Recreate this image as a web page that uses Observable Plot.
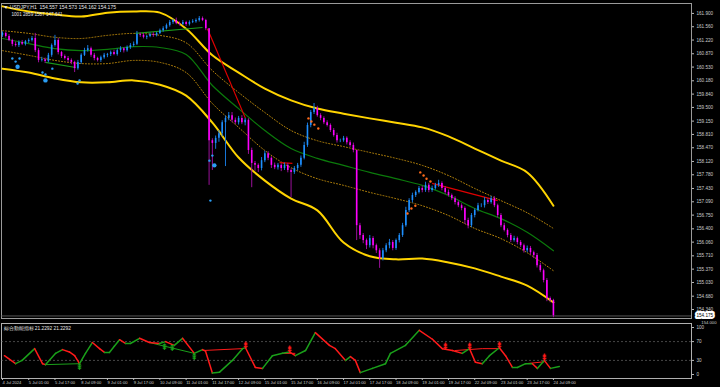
<!DOCTYPE html>
<html><head><meta charset="utf-8">
<script src="https://cdn.jsdelivr.net/npm/d3@7"></script>
<script src="https://cdn.jsdelivr.net/npm/@observablehq/plot@0.6"></script>
<style>
html,body{margin:0;padding:0;background:#000;}
#wrap{width:720px;height:387px;background:#000;overflow:hidden;}
svg{display:block;}
</style></head><body><div id="wrap"></div>
<script>
// ---- data (2-hour candles, USDJPY) ----
const firstOpen = 161.34;
const closes = [161.39,161.31,161.21,161.11,161.08,161.16,161.11,161.18,161.21,161.26,
160.95,160.70,160.72,160.67,160.83,161.08,161.21,160.90,160.80,160.75,
160.70,160.65,160.49,160.65,160.83,160.95,161.00,160.83,160.75,160.70,
160.77,160.83,160.85,160.90,160.85,160.95,161.00,160.95,161.03,161.08,
161.11,161.36,161.34,161.29,161.31,161.36,161.34,161.39,161.46,161.51,
161.59,161.67,161.72,161.64,161.62,161.67,161.62,161.67,161.69,161.72,
161.77,161.72,161.51,158.65,158.58,158.71,158.83,159.11,159.22,159.29,
159.17,159.11,159.22,159.11,159.17,158.40,158.07,158.02,157.94,158.14,
158.32,158.20,158.02,157.96,158.02,157.94,158.02,157.89,157.84,157.94,
158.02,158.20,158.53,159.04,159.37,159.47,159.29,159.22,159.11,159.04,
158.91,158.78,158.65,158.65,158.71,158.60,158.53,158.40,156.48,156.23,
156.10,155.97,156.15,155.97,155.84,155.64,155.84,155.97,156.05,155.90,
156.10,156.23,156.48,156.87,157.12,157.25,157.33,157.43,157.38,157.51,
157.38,157.43,157.51,157.56,157.43,157.33,157.25,157.17,157.07,156.99,
156.92,156.61,156.48,156.74,156.87,156.99,156.99,157.12,157.07,157.17,
156.99,156.74,156.48,156.36,156.23,156.10,156.15,156.05,155.97,155.84,
155.90,155.79,155.72,155.46,155.33,155.08,154.62,154.57,154.18];
// wick extension above the body / below the body (price units)
const wickUp = [.04,.03,.05,.03,.06,.04,.05,.03,.04,.05,
.13,.05,.06,.04,.05,.04,.13,.05,.03,.04,
.05,.04,.03,.05,.04,.06,.08,.04,.05,.03,
.04,.05,.03,.04,.06,.04,.05,.03,.04,.05,
.06,.08,.04,.05,.03,.04,.05,.03,.04,.05,
.04,.05,.03,.06,.04,.05,.03,.04,.05,.04,
.05,.04,.03,0,.05,.06,.08,.05,.06,.08,
.08,.06,.05,.07,.05,.04,.06,.05,.04,.08,
.06,.05,.04,.06,.05,.04,.06,.05,.04,.05,
.05,.06,.08,.06,.05,.13,.06,.05,.04,.05,
.04,.05,.06,.04,.05,.04,.05,.06,0,.06,
.05,.04,.08,.05,.04,.05,.06,.05,.08,.05,
.04,.05,.06,.08,.05,.06,.04,.05,.06,.08,
.05,.06,.05,.08,.04,.05,.06,.04,.05,.04,
.05,.04,.06,.05,.04,.06,.05,.08,.05,.06,
.05,.04,.05,.06,.04,.05,.06,.04,.05,.04,
.06,.05,.04,.05,.06,.04,.05,.04,.03];
const wickDn = [.05,.04,.03,.06,.04,.05,.03,.04,.05,.04,
.05,.06,.04,.05,.03,.05,.04,.06,.05,.04,
.05,.06,.10,.04,.05,.03,.04,.05,.06,.04,
.05,.04,.06,.05,.03,.04,.05,.06,.04,.05,
.04,.03,.05,.04,.06,.03,.05,.04,.03,.04,
.03,.04,.05,.03,.04,.03,.05,.04,.03,.04,
.04,.03,.05,1.14,.69,.15,.10,.08,1.12,.06,
.06,.05,.06,.05,.08,.10,.62,.15,.10,.06,
.05,.06,.08,.05,.06,.08,.05,.06,.64,.05,
.06,.05,.04,.05,.06,.05,.04,.06,.05,.04,
.05,.04,.06,.05,.04,.06,.05,.06,.38,.10,
.08,.10,.06,.08,.07,.25,.06,.05,.08,.06,
.05,.06,.05,.04,.05,.06,.05,.04,.06,.05,
.06,.05,.04,.05,.06,.05,.04,.05,.06,.05,
.06,.10,.08,.05,.06,.04,.05,.06,.05,.04,
.05,.06,.05,.04,.06,.05,.04,.06,.05,.06,
.05,.06,.08,.06,.05,.06,.08,.06,.05];

// TMA bands, sampled every 8 candles
const bandIdx   = [0,8,16,24,32,40,48,56,64,72,80,88,96,104,112,120,128,136,144,152,160,168];
const upperBand = [162.08,161.95,161.87,161.82,161.92,161.95,161.92,161.51,160.83,160.39,159.98,159.68,159.47,159.34,159.22,159.11,158.99,158.76,158.45,158.14,157.84,156.99];
const upperDot  = [161.46,161.39,161.29,161.26,161.34,161.39,161.34,161.15,160.44,159.88,159.37,158.91,158.65,158.50,158.35,158.20,158.02,157.76,157.43,157.12,156.81,156.41];
const midLine   = [161.26,161.13,161.00,160.95,160.98,161.05,161.03,160.85,160.06,159.47,158.91,158.45,158.20,158.02,157.84,157.68,157.51,157.25,156.92,156.66,156.31,155.84];
const lowerDot  = [160.95,160.83,160.70,160.62,160.62,160.70,160.65,160.39,159.60,158.99,158.40,157.96,157.68,157.51,157.33,157.17,156.99,156.74,156.41,156.15,155.79,155.33];
const lowerBand = [160.49,160.39,160.24,160.14,160.14,160.19,160.08,159.80,159.11,158.22,157.63,157.17,156.87,156.05,155.70,155.62,155.64,155.54,155.39,155.18,154.95,154.52];

// signal dots
const buyIdx   = [3,4,5.2,12.2,13.1,15.2,22.9,23.5,63.1,64,63.4];
const buyPrice = [160.75,160.67,160.75,160.39,160.34,160.49,160.11,160.19,158.14,158.27,157.12];
const buyBigIdx = [4.6,13.1,64.6];
const buyBigPrice = [160.54,160.19,158.02];
const sellIdx   = [93.3,94.2,95.1,96.3,123.5,124.7,125.9,127.4,128.4,129.3,130.5];
const sellPrice = [159.22,159.14,159.06,158.96,156.79,156.92,156.99,157.84,157.76,157.68,157.61];

// trend lines on price chart
const trendColor = ["red","red","red","green","green"];
const trendX1 = [62.5,84.5,131,13.1,40.5];
const trendY1 = [161.51,158.09,157.56,160.65,161.39];
const trendX2 = [74.1,88.4,151,22.3,61];
const trendY2 = [159.22,158.07,157.12,160.52,161.54];

const lastPrice = 154.175;
const yTicks = [161.900,161.560,161.220,160.870,160.530,160.180,159.840,159.500,159.150,158.810,158.470,158.120,157.780,157.430,157.090,156.750,156.400,156.060,155.710,155.370,155.030,154.680,154.340];

// oscillator
const oscIdx = [0.6,4,6,9.8,12.2,13.1,16.2,18.3,20.4,22,23.5,25.3,27.4,29.6,31.1,32.6,34.1,35.7,37.5,39,41.8,44.8,47.9,49.7,52.4,54.9,58.5,61,61.9,64,66.2,70.1,73.2,74.1,77.1,79.3,82.3,85.4,87.5,89.3,92.4,95.4,99.7,101.5,104.6,106.1,107.6,109.1,112.8,116.8,118.3,122.9,127.1,131.1,134.1,137.2,140.2,142.4,144.2,146.3,148.5,151.5,153.4,155.5,157,159.5,161.6,163.1,165.2,167.1,169.8];
const oscVal = [40,23,30,55,23,21,45,53,48,40,23,45,68,55,47,47,60,74,66,66,77,68,66,70,62,77,45,53,50,3,5,30,55,57,15,13,40,45,48,40,51,89,62,55,30,38,30,4,13,23,45,62,94,75,55,51,45,55,26,23,40,57,40,15,15,23,23,13,30,13,17];
const upArrowIdx = [23.5,49.4,51.8,58.5];
const upArrowVal = [16,58,56,38];
const dnArrowIdx = [74.1,87.5,135,142.4,151.5,165.2];
const dnArrowVal = [62,54,60,60,62,36];
const oscTrendColor = ["green","green","red","red","red","red","red"];
const oscTrendX1 = [13.1,44.8,61,85.4,138,146.3,159.5];
const oscTrendV1 = [21,68,51,45,51,55,23];
const oscTrendX2 = [23.5,58.5,73.2,89.3,146.3,151.5,165.2];
const oscTrendV2 = [23,45,55,45,55,55,27];

const xTickIdx = [0,8,16,24,32,40,48,56,64,72,80,88,96,104,112,120,128,136,144,152,160,168];
const xLabels = ["4 Jul 2024","5 Jul 01:00","5 Jul 17:00","8 Jul 09:00","9 Jul 01:00","9 Jul 17:00","10 Jul 09:00","11 Jul 01:00","11 Jul 17:00","12 Jul 09:00","15 Jul 01:00","15 Jul 17:00","16 Jul 09:00","17 Jul 01:00","17 Jul 17:00","18 Jul 09:00","19 Jul 01:00","19 Jul 17:00","22 Jul 09:00","23 Jul 01:00","23 Jul 17:00","24 Jul 09:00"];

const titleLine = "▼ USDJPY,H1  154.557 154.573 154.162 154.175";
const infoLine = "1001 2859 1587 147.641";
const oscTitle = "綜合動能指标 21.2292 21.2292";

// ---- build tables ----
const candles = closes.map((c, i) => {
  const o = i === 0 ? firstOpen : closes[i - 1];
  return {i, o, c, h: Math.max(o, c) + wickUp[i], l: Math.min(o, c) - wickDn[i], up: c >= o};
});
const band = (arr) => bandIdx.map((x, k) => ({x, y: arr[k]}));
const pts = (xs, ys) => xs.map((x, k) => ({x, y: ys[k]}));
const trends = trendX1.map((x, k) => ({x1: x, y1: trendY1[k], x2: trendX2[k], y2: trendY2[k], c: trendColor[k]}));
const oscSeg = oscIdx.slice(1).map((x, k) => ({x1: oscIdx[k], y1: oscVal[k], x2: x, y2: oscVal[k + 1], c: oscVal[k + 1] >= oscVal[k] ? "#1aa01a" : "#ff1a1a"}));
const oscTrends = oscTrendX1.map((x, k) => ({x1: x, y1: oscTrendV1[k], x2: oscTrendX2[k], y2: oscTrendV2[k], c: oscTrendColor[k] === "green" ? "#1aa01a" : "#ff1a1a"}));

const BULL = "#1E90FF", BEAR = "#FF00FF";
const font = "'Liberation Sans', 'DejaVu Sans', sans-serif";
const xDomain = [-0.3, 210.1];

const main = Plot.plot({
  width: 720, height: 320, marginTop: 3, marginBottom: 2, marginLeft: 1, marginRight: 29,
  style: {background: "#000", color: "#ddd", fontFamily: font, fontSize: "5px"},
  x: {domain: xDomain, axis: null},
  y: {domain: [154.11, 162.23], range: [318, 0], axis: null},
  marks: [
    Plot.frame({stroke: "#9a9a9a"}),
    Plot.line(band(upperDot), {x: "x", y: "y", stroke: "#b8860b", strokeWidth: 1, strokeDasharray: "1,2", curve: "catmull-rom"}),
    Plot.line(band(lowerDot), {x: "x", y: "y", stroke: "#b8860b", strokeWidth: 1, strokeDasharray: "1,2", curve: "catmull-rom"}),
    Plot.line(band(midLine), {x: "x", y: "y", stroke: "#0b7a0b", strokeWidth: 1.2, curve: "catmull-rom"}),
    Plot.line(band(upperBand), {x: "x", y: "y", stroke: "#ffd400", strokeWidth: 2, curve: "catmull-rom"}),
    Plot.line(band(lowerBand), {x: "x", y: "y", stroke: "#ffd400", strokeWidth: 2, curve: "catmull-rom"}),
    Plot.ruleY([lastPrice], {stroke: "#6a6a6a", strokeWidth: 0.8}),
    Plot.link(trends, {x1: "x1", y1: "y1", x2: "x2", y2: "y2", stroke: d => d.c === "red" ? "#e00000" : "#1a9a1a", strokeWidth: 1.2}),
    Plot.ruleX(candles, {x: "i", y1: "l", y2: "h", stroke: d => d.up ? "#1877d8" : "#9a109a", strokeWidth: 1}),
    Plot.ruleX(candles, {x: "i", y1: "o", y2: "c", stroke: d => d.up ? BULL : BEAR, strokeWidth: 1.6}),
    Plot.dot(pts(buyIdx, buyPrice), {x: "x", y: "y", r: 1.2, fill: "#2a9df4"}),
    Plot.dot(pts(buyBigIdx, buyBigPrice), {x: "x", y: "y", r: 2.2, fill: "#2a9df4"}),
    Plot.dot(pts(sellIdx, sellPrice), {x: "x", y: "y", r: 1.2, fill: "#ff6a1a"}),
    Plot.axisY({anchor: "right", ticks: yTicks, tickFormat: d => d.toFixed(3), tickSize: 2, tickPadding: 3, stroke: "#bbb", fill: "#ccc", fontSize: 4.6}),
    Plot.text([titleLine], {frameAnchor: "top-left", dx: 2, dy: 2, fill: "#e8e8e8", fontSize: 5}),
    Plot.text([infoLine], {frameAnchor: "top-left", dx: 10, dy: 9, fill: "#e8e8e8", fontSize: 4.6}),
    Plot.text([lastPrice.toFixed(3)], {x: 211, y: lastPrice, textAnchor: "start", dx: 2, fill: "#000", stroke: "#fff", strokeWidth: 4, paintOrder: "stroke", fontSize: 4.6, clip: false})
  ]
});

const ind = Plot.plot({
  width: 720, height: 67, marginTop: 3, marginBottom: 9, marginLeft: 1, marginRight: 29,
  style: {background: "#000", color: "#ddd", fontFamily: font, fontSize: "5px"},
  x: {domain: xDomain, axis: null},
  y: {domain: [0, 100], range: [54, 7], axis: null},
  marks: [
    Plot.frame({stroke: "#b0b0b0", strokeWidth: 1}),
    Plot.ruleY([70, 30], {stroke: "#777", strokeDasharray: "2,2", strokeWidth: 0.6}),
    Plot.link(oscTrends, {x1: "x1", y1: "y1", x2: "x2", y2: "y2", stroke: "c", strokeWidth: 1}),
    Plot.link(oscSeg, {x1: "x1", y1: "y1", x2: "x2", y2: "y2", stroke: "c", strokeWidth: 1.5, strokeLinecap: "round"}),
    Plot.text(pts(upArrowIdx, upArrowVal), {x: "x", y: "y", text: () => "⇞", fill: "#1aa01a", fontSize: 9, fontFamily: "DejaVu Sans", fontWeight: "bold"}),
    Plot.text(pts(dnArrowIdx, dnArrowVal), {x: "x", y: "y", text: () => "⇟", fill: "#ff1a1a", fontSize: 9, fontFamily: "DejaVu Sans", fontWeight: "bold"}),
    Plot.axisY({anchor: "right", ticks: [100, 70, 30, 0], tickSize: 2, tickPadding: 3, stroke: "#bbb", fill: "#ccc", fontSize: 4.6}),
    Plot.axisX({anchor: "bottom", ticks: xTickIdx, tickFormat: d => xLabels[xTickIdx.indexOf(d)], textAnchor: "start", tickSize: 2, tickPadding: 1, stroke: "#bbb", fill: "#ccc", fontSize: 4.1}),
    Plot.text([oscTitle], {frameAnchor: "top-left", dx: 2, dy: 3, fill: "#e8e8e8", fontSize: 4.8}),
    Plot.text(["154.000"], {frameAnchor: "top-right", dx: 25, dy: -2.5, fill: "#ccc", fontSize: 4.2, clip: false})
  ]
});

const wrap = document.getElementById("wrap");
wrap.appendChild(main);
wrap.appendChild(ind);
</script></body></html>
